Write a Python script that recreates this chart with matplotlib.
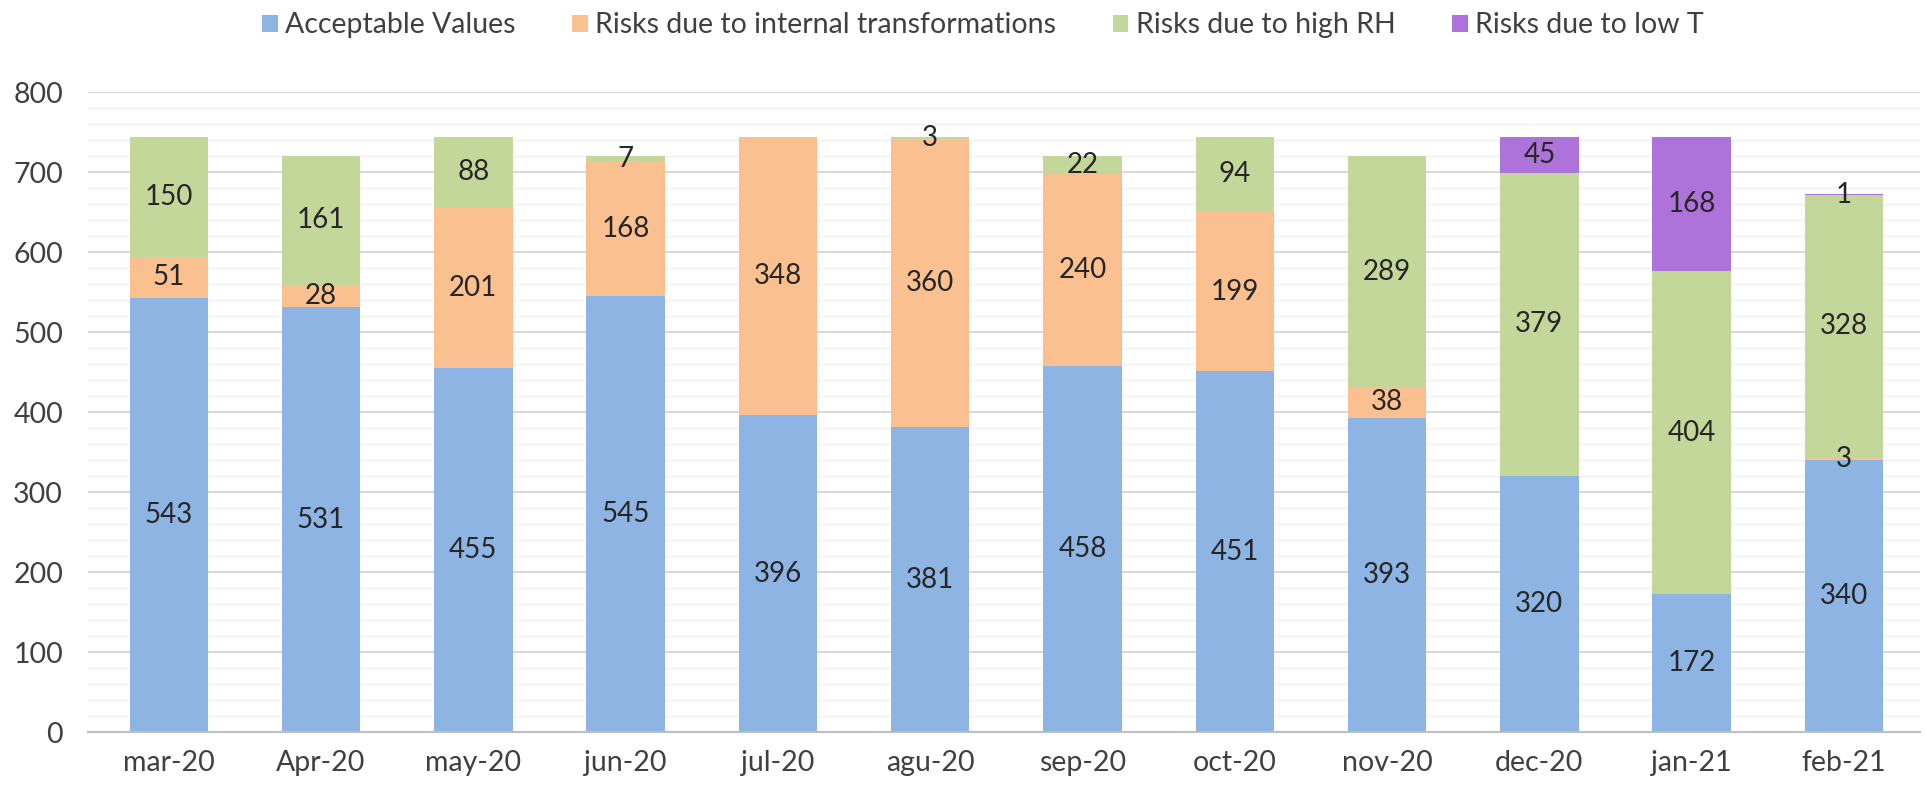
import numpy as np
import matplotlib
matplotlib.use("Agg")
import matplotlib.pyplot as plt
from matplotlib.ticker import MultipleLocator

plt.rcParams["font.family"] = ["Lato", "DejaVu Sans"]

months = ["mar-20", "Apr-20", "may-20", "jun-20", "jul-20", "agu-20",
          "sep-20", "oct-20", "nov-20", "dec-20", "jan-21", "feb-21"]
acceptable = [543, 531, 455, 545, 396, 381, 458, 451, 393, 320, 172, 340]
internal = [51, 28, 201, 168, 348, 360, 240, 199, 38, 0, 0, 3]
high_rh = [150, 161, 88, 7, 0, 3, 22, 94, 289, 379, 404, 328]
low_t = [0, 0, 0, 0, 0, 0, 0, 0, 0, 45, 168, 1]

series = [
    ("Acceptable Values", acceptable, "#8DB4E2"),
    ("Risks due to internal transformations", internal, "#FAC090"),
    ("Risks due to high RH", high_rh, "#C4D79B"),
    ("Risks due to low T", low_t, "#AD73DB"),
]

fig = plt.figure(figsize=(19.27, 7.93), dpi=100)
ax = fig.add_axes([0.0457, 0.0769, 0.9507, 0.807])

x = np.arange(len(months))
bottom = np.zeros(len(months))
for name, vals, color in series:
    vals = np.array(vals, dtype=float)
    ax.bar(x, vals, 0.515, bottom=bottom, color=color, label=name, zorder=3)
    for xi, b, v in zip(x, bottom, vals):
        if v > 0:
            ax.text(xi, b + v / 2, f"{int(v)}", ha="center", va="center",
                    fontsize=20, color="#262626", zorder=4)
    bottom += vals

ax.set_xlim(-0.53, 11.5)
ax.set_ylim(0, 800)
ax.yaxis.set_major_locator(MultipleLocator(100))
ax.yaxis.set_minor_locator(MultipleLocator(20))
ax.grid(axis="y", which="major", color="#D9D9D9", linewidth=1.5, zorder=0)
ax.grid(axis="y", which="minor", color="#F0F0F0", linewidth=1.0, zorder=0)
ax.set_xticks(x)
ax.set_xticklabels(months)
ax.tick_params(axis="both", which="both", length=0, labelsize=20.5,
               colors="#404040")
ax.tick_params(axis="x", pad=13)
ax.tick_params(axis="y", pad=18)
for side in ["top", "right", "left"]:
    ax.spines[side].set_visible(False)
ax.spines["bottom"].set_color("#BFBFBF")
ax.spines["bottom"].set_linewidth(1.5)
ax.spines["bottom"].set_zorder(5)

fig.legend(loc="center", bbox_to_anchor=(0.51, 0.968), ncol=4, frameon=False,
           fontsize=20.5, handlelength=0.55, handleheight=0.55, handletextpad=0.25,
           columnspacing=2.0, labelcolor="#404040")

fig.savefig("out.png", dpi=100)
